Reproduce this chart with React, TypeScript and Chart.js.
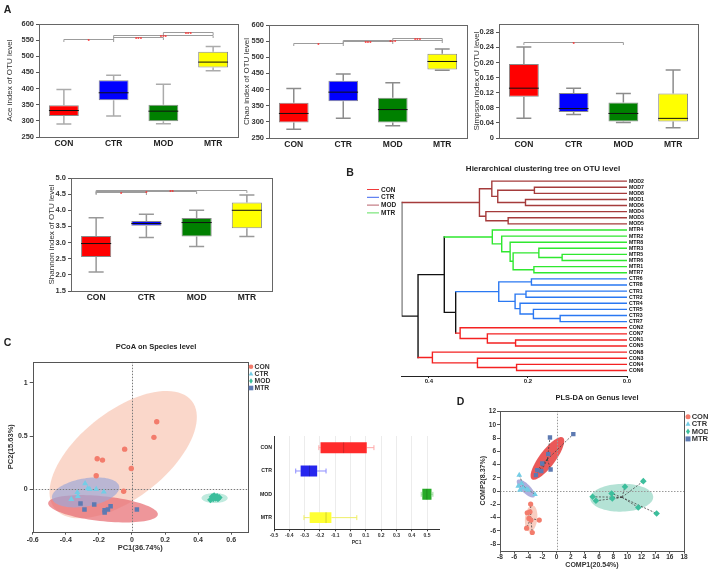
import React, { useEffect, useRef } from 'react';
import { Chart, registerables } from 'chart.js';

Chart.register(...registerables);

const FONT = '"Liberation Sans", Arial, Helvetica, sans-serif';
Chart.defaults.font.family = FONT;

type Rect = { left: number; top: number; width: number; height: number };
type Plot = { l: number; t: number; r: number; b: number };

// ---------------- shared ----------------
const GROUPS = ['CON', 'CTR', 'MOD', 'MTR'];
const BOX_FILL = ['#FF0000', '#0000FF', '#008000', '#FFFF00'];

// ---------------- Panel A : [min, q1, median, q3, max] ----------------
const aceStats = [[290, 315, 332, 348, 397], [315, 364, 387, 426, 441], [291, 299, 330, 350, 413], [455, 465, 482, 514, 530]];
const chaoStats = [[277, 298, 326, 359, 403], [311, 364, 392, 427, 448], [288, 298, 338, 375, 421], [460, 462, 487, 511, 526]];
const simpsonStats = [[0.052, 0.109, 0.132, 0.196, 0.241], [0.062, 0.069, 0.078, 0.119, 0.132], [0.041, 0.044, 0.065, 0.094, 0.118], [0.027, 0.044, 0.052, 0.118, 0.18]];
const shannonStats = [[2.09, 2.55, 2.97, 3.2, 3.77], [3.16, 3.52, 3.59, 3.67, 3.88], [2.88, 3.19, 3.62, 3.76, 4.0], [3.19, 3.44, 4.0, 4.24, 4.47]];

const aceTicks = [250, 300, 350, 400, 450, 500, 550, 600];
const chaoTicks = [250, 300, 350, 400, 450, 500, 550, 600];
const simpsonTicks = [0, 0.04, 0.08, 0.12, 0.16, 0.2, 0.24, 0.28];
const shannonTicks = [1.5, 2.0, 2.5, 3.0, 3.5, 4.0, 4.5, 5.0];

// significance brackets: [group A index, group B index, level, label]
const aceSig = [[0, 1, 552, '*'], [1, 2, 560, '***'], [1, 3, 567, '***'], [2, 3, 574, '***']];
const chaoSig = [[0, 1, 544, '*'], [1, 2, 550, '***'], [1, 3, 555, '***'], [2, 3, 560, '***']];
const simpsonSig = [[0, 2, 0.253, '*']];
const shannonSig = [[0, 1, 4.58, '*'], [0, 2, 4.61, '*'], [0, 3, 4.64, '**']];

// ---------------- Panel B : dendrogram ----------------
const leafNames = ['MOD2', 'MOD7', 'MOD8', 'MOD1', 'MOD6', 'MOD4', 'MOD3', 'MOD5', 'MTR4', 'MTR2', 'MTR8', 'MTR3', 'MTR5', 'MTR6', 'MTR1', 'MTR7', 'CTR6', 'CTR8', 'CTR1', 'CTR2', 'CTR4', 'CTR5', 'CTR3', 'CTR7', 'CON2', 'CON7', 'CON1', 'CON5', 'CON8', 'CON3', 'CON4', 'CON6'];
// [child a, child b, height]; ids < 32 are leaves, 32 + k is merge k
const treeMerges = [
  [1, 2, 0.187], [3, 4, 0.205], [32, 33, 0.261], [0, 34, 0.273], [6, 7, 0.24], [5, 36, 0.285], [35, 37, 0.298],
  [12, 13, 0.131], [11, 39, 0.178], [14, 15, 0.188], [40, 41, 0.23], [10, 42, 0.236], [9, 43, 0.253], [8, 44, 0.272],
  [16, 17, 0.193], [18, 19, 0.204], [22, 23, 0.135], [21, 48, 0.189], [20, 49, 0.216], [47, 50, 0.226], [46, 51, 0.259],
  [26, 27, 0.225], [25, 53, 0.282], [24, 54, 0.337], [30, 31, 0.223], [29, 56, 0.302], [28, 57, 0.393],
  [52, 55, 0.346], [45, 59, 0.369], [60, 58, 0.422], [38, 61, 0.455],
];
const treeTicks = [0, 0.2, 0.4];
const treeColors: Record<string, string> = { CON: '#F42222', CTR: '#2A78F2', MOD: '#A53B3B', MTR: '#2FE82F' };
const treeLegendColors = ['#F03A3A', '#3C64EE', '#B8606A', '#5EE05E'];

// ---------------- Panel C : PCoA ----------------
const pcoaCON = [[0.15, 0.635], [0.133, 0.488], [-0.044, 0.377], [-0.21, 0.286], [-0.178, 0.274], [-0.004, 0.195], [-0.216, 0.126], [-0.05, -0.019]];
const pcoaCTR = [[-0.283, 0.054], [-0.267, 0.007], [-0.255, 0.0], [-0.216, 0.0], [-0.17, -0.025], [-0.33, -0.03], [-0.327, -0.066], [-0.367, -0.094]];
const pcoaMOD = [[0.475, -0.1], [0.485, -0.07], [0.497, -0.06], [0.507, -0.085], [0.515, -0.068], [0.528, -0.078], [0.492, -0.09], [0.52, -0.09]];
const pcoaMTR = [[-0.311, -0.135], [-0.287, -0.192], [-0.228, -0.145], [-0.165, -0.198], [-0.129, -0.16], [-0.145, -0.192], [-0.165, -0.22], [0.03, -0.192]];
const pcoaXTicks = [-0.6, -0.4, -0.2, 0, 0.2, 0.4, 0.6];
const pcoaYTicks = [0, 0.5, 1];
// confidence ellipses: centre, conjugate semi-axes (data units)
const pcoaEllCON = { c: [-0.053, 0.325], u: [0.415, 0.505], v: [-0.162, 0.323], fill: 'rgba(246,175,150,0.5)' };
const pcoaEllMTR = { c: [-0.175, -0.184], u: [0.3315, -0.054], v: [0.0079, 0.117], fill: 'rgba(232,110,115,0.72)' };
const pcoaEllCTR = { c: [-0.28, -0.03], u: [0.203, 0.0557], v: [-0.0147, 0.13], fill: 'rgba(160,168,215,0.7)' };
const pcoaEllMOD = { c: [0.5, -0.083], u: [0.079, 0], v: [0, 0.047], fill: 'rgba(150,220,200,0.6)' };

// inset PC1 box plot [min, q1, median, q3, max]
const pc1Stats = [[-0.207, -0.196, -0.045, 0.106, 0.153], [-0.358, -0.326, -0.268, -0.218, -0.16], [0.462, 0.469, 0.499, 0.529, 0.538], [-0.304, -0.267, -0.16, -0.125, 0.041]];
const pc1Ticks = [-0.5, -0.4, -0.3, -0.2, -0.1, 0, 0.1, 0.2, 0.3, 0.4, 0.5];

// ---------------- Panel D : PLS-DA ----------------
const plsCON = [[-3.67, -1.96], [-4.15, -3.27], [-3.77, -3.12], [-3.91, -4.13], [-3.63, -4.38], [-2.45, -4.38], [-4.24, -5.59], [-3.44, -6.25]];
const plsCTR = [[-5.28, 2.42], [-5.42, 0.76], [-5.18, 0.15], [-4.71, 0.5], [-4.24, 0.3], [-4.0, 0.15], [-3.06, -0.5], [-4.95, 1.16]];
const plsMOD = [[5.09, -0.86], [5.56, -1.46], [7.77, -0.35], [7.87, -1.1], [9.66, 0.65], [12.25, 1.51], [11.54, -2.47], [14.13, -3.38]];
const plsMTR = [[-0.94, 8.11], [2.36, 8.61], [-1.18, 5.59], [-2.03, 4.18], [-2.17, 3.02], [-2.73, 3.17], [-0.85, 3.27], [-2.92, 2.42]];
const plsXTicks = [-8, -6, -4, -2, 0, 2, 4, 6, 8, 10, 12, 14, 16, 18];
const plsYTicks = [-8, -6, -4, -2, 0, 2, 4, 6, 8, 10, 12];
const plsEllCON = { c: [-3.6, -4.13], u: [0.15, 2.0], v: [0.87, 0], fill: 'rgba(245,172,150,0.6)' };
const plsEllCTR = { c: [-4.35, 0.4], u: [1.2, -1.28], v: [0.45, 0.48], fill: 'rgba(140,140,205,0.7)' };
const plsEllMTR = { c: [-1.3, 4.94], u: [2.2, 3.14], v: [-0.9, 0.73], fill: 'rgba(230,60,60,0.85)' };
const plsEllMOD = { c: [9.2, -1.0], u: [4.45, 0.1], v: [0, 2.1], fill: 'rgba(140,210,190,0.65)' };

const PT_COLORS = ['#F37C6C', '#74CDE6', '#3CBE9C', '#5D7AB2'];
const PT_STYLES = ['circle', 'triangle', 'rectRot', 'rect'];

// ---------------- helpers ----------------
function frameOf(rect: Rect, plot: Plot) {
  return {
    padding: { left: 0, top: plot.t - rect.top, right: rect.left + rect.width - plot.r, bottom: 0 },
    yW: plot.l - rect.left,
    xH: rect.top + rect.height - plot.b,
  };
}

const f = (size: number, weight: any = 'bold') => ({ family: FONT, size, weight });

function framePlugin(color: string) {
  return {
    id: 'frame',
    afterDatasetsDraw(chart: any) {
      const { ctx, chartArea: a } = chart;
      ctx.save();
      ctx.strokeStyle = color;
      ctx.lineWidth = 1;
      ctx.strokeRect(Math.round(a.left) + 0.5, Math.round(a.top) + 0.5, Math.round(a.right - a.left), Math.round(a.bottom - a.top));
      ctx.restore();
    },
  };
}

function whiskerPlugin(stats: number[][], colors: string[], medColor: string, horizontal: boolean, capFrac: number, lw: number) {
  return {
    id: 'whisk',
    beforeDatasetsDraw(chart: any) {
      const ctx = chart.ctx;
      const meta = chart.getDatasetMeta(0);
      const cat = horizontal ? chart.scales.y : chart.scales.x;
      const val = horizontal ? chart.scales.x : chart.scales.y;
      ctx.save();
      ctx.lineWidth = lw;
      stats.forEach((s, i) => {
        const c = cat.getPixelForValue(i);
        const bw = horizontal ? meta.data[i].height : meta.data[i].width;
        const cap = (bw * capFrac) / 2;
        const p = s.map((v) => val.getPixelForValue(v));
        ctx.strokeStyle = colors[i];
        ctx.beginPath();
        if (!horizontal) {
          ctx.moveTo(c, p[0]); ctx.lineTo(c, p[1]);
          ctx.moveTo(c, p[3]); ctx.lineTo(c, p[4]);
          ctx.moveTo(c - cap, p[0]); ctx.lineTo(c + cap, p[0]);
          ctx.moveTo(c - cap, p[4]); ctx.lineTo(c + cap, p[4]);
        } else {
          ctx.moveTo(p[0], c); ctx.lineTo(p[1], c);
          ctx.moveTo(p[3], c); ctx.lineTo(p[4], c);
          ctx.moveTo(p[0], c - cap); ctx.lineTo(p[0], c + cap);
          ctx.moveTo(p[4], c - cap); ctx.lineTo(p[4], c + cap);
        }
        ctx.stroke();
      });
      ctx.restore();
    },
    afterDatasetsDraw(chart: any) {
      const ctx = chart.ctx;
      const meta = chart.getDatasetMeta(0);
      const cat = horizontal ? chart.scales.y : chart.scales.x;
      const val = horizontal ? chart.scales.x : chart.scales.y;
      ctx.save();
      ctx.strokeStyle = medColor;
      ctx.lineWidth = 1;
      stats.forEach((s, i) => {
        const c = cat.getPixelForValue(i);
        const bw = horizontal ? meta.data[i].height : meta.data[i].width;
        const m = val.getPixelForValue(s[2]);
        ctx.beginPath();
        if (!horizontal) { ctx.moveTo(c - bw / 2, m); ctx.lineTo(c + bw / 2, m); }
        else { ctx.moveTo(m, c - bw / 2); ctx.lineTo(m, c + bw / 2); }
        ctx.stroke();
      });
      ctx.restore();
    },
  };
}

function sigPlugin(sig: any[]) {
  return {
    id: 'sig',
    afterDatasetsDraw(chart: any) {
      const { ctx } = chart;
      const x = chart.scales.x;
      const y = chart.scales.y;
      ctx.save();
      sig.forEach(([a, b, lvl, lab]) => {
        const x1 = x.getPixelForValue(a);
        const x2 = x.getPixelForValue(b);
        const yy = Math.round(y.getPixelForValue(lvl)) + 0.5;
        ctx.strokeStyle = '#9c9c9c';
        ctx.lineWidth = 1;
        ctx.beginPath();
        ctx.moveTo(x1, yy + 2.5); ctx.lineTo(x1, yy); ctx.lineTo(x2, yy); ctx.lineTo(x2, yy + 2.5);
        ctx.stroke();
        ctx.fillStyle = '#FF2A2A';
        ctx.font = `bold 6px ${FONT}`;
        ctx.textAlign = 'center';
        ctx.textBaseline = 'middle';
        ctx.fillText(lab, (x1 + x2) / 2, yy + 1.5);
      });
      ctx.restore();
    },
  };
}

function drawSymbol(ctx: any, style: string, x: number, y: number, r: number, color: string) {
  ctx.fillStyle = color;
  ctx.beginPath();
  if (style === 'circle') ctx.arc(x, y, r, 0, Math.PI * 2);
  else if (style === 'triangle') { ctx.moveTo(x, y - r * 1.1); ctx.lineTo(x + r, y + r * 0.7); ctx.lineTo(x - r, y + r * 0.7); ctx.closePath(); }
  else if (style === 'rectRot') { ctx.moveTo(x, y - r * 1.2); ctx.lineTo(x + r * 0.8, y); ctx.lineTo(x, y + r * 1.2); ctx.lineTo(x - r * 0.8, y); ctx.closePath(); }
  else ctx.rect(x - r, y - r, 2 * r, 2 * r);
  ctx.fill();
}

// ---------------- builders ----------------
function boxChart(p: any) {
  const L = frameOf(p.rect, p.plot);
  const lh = 8 * 1.2;
  return {
    type: 'bar',
    data: {
      labels: GROUPS,
      datasets: [{
        data: p.stats.map((s: number[]) => [s[1], s[3]]),
        backgroundColor: BOX_FILL,
        borderColor: '#8a8a8a',
        borderWidth: 1,
        borderSkipped: false,
        barPercentage: 0.6,
        categoryPercentage: 1,
      }],
    },
    options: {
      responsive: false,
      animation: false,
      devicePixelRatio: 1,
      layout: { padding: L.padding },
      plugins: { legend: { display: false }, tooltip: { enabled: false } },
      scales: {
        x: {
          grid: { display: false, drawTicks: false },
          border: { display: false },
          ticks: { font: f(8.5), color: '#222', padding: 2 },
          afterFit: (s: any) => { s.height = L.xH; },
        },
        y: {
          min: p.min,
          max: p.max,
          afterBuildTicks: (s: any) => { s.ticks = p.ticks.map((v: number) => ({ value: v })); },
          ticks: { callback: (v: any) => p.fmt(Number(v)), font: f(7.5), color: '#333', padding: 2, autoSkip: false },
          grid: { drawOnChartArea: false, tickLength: 3, color: '#555' },
          border: { display: false },
          title: { display: true, text: p.title, font: f(8, 'normal'), color: '#333', padding: { top: p.titleX - p.rect.left - lh / 2, bottom: 0 } },
          afterFit: (s: any) => { s.width = L.yW; },
        },
      },
    },
    plugins: [whiskerPlugin(p.stats, [p.whisker, p.whisker, p.whisker, p.whisker], '#111', false, 0.5, 1.5), framePlugin('#666'), sigPlugin(p.sig)],
  };
}

function dendroChart(rect: Rect, plot: Plot) {
  const n = leafNames.length;
  const pos: number[] = leafNames.map((_, i) => i);
  const hgt: number[] = leafNames.map(() => 0);
  const grp: (string | null)[] = leafNames.map((s) => s.slice(0, 3));
  treeMerges.forEach(([a, b, h]) => {
    pos.push((pos[a] + pos[b]) / 2);
    hgt.push(h);
    grp.push(grp[a] && grp[a] === grp[b] ? grp[a] : null);
  });
  const segs: Record<string, any[]> = {};
  const colorOf = (id: number) => (grp[id] ? treeColors[grp[id] as string] : '#111111');
  const add = (color: string, pts: any[]) => {
    (segs[color] = segs[color] || []).push(...pts, { x: pts[pts.length - 1].x, y: null });
  };
  treeMerges.forEach(([a, b, h], k) => {
    const id = n + k;
    add(colorOf(a), [{ x: hgt[a], y: pos[a] }, { x: h, y: pos[a] }]);
    add(colorOf(id), [{ x: h, y: pos[a] }, { x: h, y: pos[b] }]);
    add(colorOf(b), [{ x: hgt[b], y: pos[b] }, { x: h, y: pos[b] }]);
  });
  const datasets = Object.keys(segs).map((c) => ({
    data: segs[c],
    borderColor: c,
    borderWidth: 1.4,
    pointRadius: 0,
    spanGaps: false,
    borderCapStyle: 'square',
    fill: false,
  }));
  const legendPlugin = {
    id: 'treeLegend',
    afterDraw(chart: any) {
      const ctx = chart.ctx;
      ctx.save();
      ctx.font = `bold 6.5px ${FONT}`;
      ctx.textBaseline = 'middle';
      ctx.textAlign = 'left';
      GROUPS.forEach((g, i) => {
        const y = 189.5 - rect.top + i * 7.8;
        ctx.strokeStyle = treeLegendColors[i];
        ctx.lineWidth = 1;
        ctx.beginPath();
        ctx.moveTo(367 - rect.left, y); ctx.lineTo(379 - rect.left, y);
        ctx.stroke();
        ctx.fillStyle = '#222';
        ctx.fillText(g, 381 - rect.left, y + 0.3);
      });
      ctx.restore();
    },
  };
  return {
    type: 'line',
    data: { datasets },
    options: {
      responsive: false,
      animation: false,
      devicePixelRatio: 1,
      layout: { padding: { left: plot.l - rect.left, top: plot.t - rect.top, right: 0, bottom: 0 } },
      plugins: { legend: { display: false }, tooltip: { enabled: false } },
      scales: {
        x: {
          type: 'linear',
          reverse: true,
          min: 0,
          max: 0.455,
          afterBuildTicks: (s: any) => { s.ticks = treeTicks.map((v) => ({ value: v })); },
          ticks: { callback: (v: any) => Number(v).toFixed(1), font: f(6), color: '#222', padding: 0, autoSkip: false, maxRotation: 0 },
          grid: { drawOnChartArea: false, tickLength: 2, color: '#222' },
          border: { display: true, color: '#222', width: 1 },
          afterFit: (s: any) => { s.height = rect.top + rect.height - plot.b; },
        },
        y: {
          type: 'linear',
          position: 'right',
          reverse: true,
          min: -1,
          max: 31.9,
          afterBuildTicks: (s: any) => { s.ticks = leafNames.map((_, i) => ({ value: i })); },
          ticks: { callback: (v: any) => leafNames[Number(v)] ?? '', font: f(5.2), color: '#111', padding: 2, autoSkip: false },
          grid: { display: false, drawTicks: false },
          border: { display: false },
          afterFit: (s: any) => { s.width = rect.left + rect.width - plot.r; },
        },
      },
    },
    plugins: [legendPlugin],
  };
}

function scatterChart(p: any) {
  const L = frameOf(p.rect, p.plot);
  const tlh = p.titleSize * 1.2;
  const groupsData = [p.con, p.ctr, p.mod, p.mtr];
  const datasets = groupsData.map((pts: number[][], i: number) => ({
    label: GROUPS[i],
    data: pts.map(([x, y]) => ({ x, y })),
    pointStyle: PT_STYLES[i],
    pointRadius: p.radii[i],
    backgroundColor: PT_COLORS[i],
    borderColor: PT_COLORS[i],
    borderWidth: 0,
  }));
  const under = {
    id: 'under',
    beforeDatasetsDraw(chart: any) {
      const { ctx, chartArea: a } = chart;
      const xs = chart.scales.x;
      const ys = chart.scales.y;
      ctx.save();
      ctx.beginPath();
      ctx.rect(a.left, a.top, a.right - a.left, a.bottom - a.top);
      ctx.clip();
      p.ellipses.forEach((e: any) => {
        ctx.beginPath();
        for (let k = 0; k <= 90; k++) {
          const t = (k / 90) * Math.PI * 2;
          const vx = e.c[0] + e.u[0] * Math.cos(t) + e.v[0] * Math.sin(t);
          const vy = e.c[1] + e.u[1] * Math.cos(t) + e.v[1] * Math.sin(t);
          const px = xs.getPixelForValue(vx);
          const py = ys.getPixelForValue(vy);
          if (k === 0) ctx.moveTo(px, py); else ctx.lineTo(px, py);
        }
        ctx.closePath();
        ctx.fillStyle = e.fill;
        ctx.fill();
      });
      // zero reference lines
      ctx.strokeStyle = p.zeroColor;
      ctx.lineWidth = 1;
      ctx.setLineDash([1.5, 1.5]);
      const x0 = Math.round(xs.getPixelForValue(0)) + 0.5;
      const y0 = Math.round(ys.getPixelForValue(0)) + 0.5;
      ctx.beginPath();
      ctx.moveTo(x0, a.top); ctx.lineTo(x0, a.bottom);
      ctx.moveTo(a.left, y0); ctx.lineTo(a.right, y0);
      ctx.stroke();
      if (p.star) {
        ctx.strokeStyle = '#444';
        ctx.lineWidth = 0.8;
        ctx.setLineDash([2, 1.5]);
        groupsData.forEach((pts: number[][]) => {
          const cx = pts.reduce((s, q) => s + q[0], 0) / pts.length;
          const cy = pts.reduce((s, q) => s + q[1], 0) / pts.length;
          const pcx = xs.getPixelForValue(cx);
          const pcy = ys.getPixelForValue(cy);
          ctx.beginPath();
          pts.forEach(([x, y]) => { ctx.moveTo(pcx, pcy); ctx.lineTo(xs.getPixelForValue(x), ys.getPixelForValue(y)); });
          ctx.stroke();
        });
      }
      ctx.restore();
    },
  };
  const legend = {
    id: 'sLegend',
    afterDraw(chart: any) {
      const ctx = chart.ctx;
      ctx.save();
      ctx.font = `bold ${p.legend.size}px ${FONT}`;
      ctx.textBaseline = 'middle';
      ctx.textAlign = 'left';
      GROUPS.forEach((g, i) => {
        const y = p.legend.y - p.rect.top + i * p.legend.dy;
        const x = p.legend.x - p.rect.left;
        drawSymbol(ctx, PT_STYLES[i], x, y, p.legend.r, PT_COLORS[i]);
        ctx.fillStyle = '#333';
        ctx.fillText(g, x + p.legend.r + 1.2, y + 0.3);
      });
      ctx.restore();
    },
  };
  return {
    type: 'scatter',
    data: { datasets },
    options: {
      responsive: false,
      animation: false,
      devicePixelRatio: 1,
      layout: { padding: L.padding },
      plugins: { legend: { display: false }, tooltip: { enabled: false } },
      scales: {
        x: {
          type: 'linear',
          min: p.xMin,
          max: p.xMax,
          afterBuildTicks: (s: any) => { s.ticks = p.xTicks.map((v: number) => ({ value: v })); },
          ticks: { callback: (v: any) => p.fmt(Number(v)), font: f(p.tickSize), color: '#333', padding: p.xTickPad, autoSkip: false, maxRotation: 0 },
          grid: { drawOnChartArea: false, tickLength: 3, color: '#555' },
          border: { display: false },
          title: { display: true, text: p.xTitle, font: f(p.titleSize), color: '#333', padding: { top: 0, bottom: p.rect.top + p.rect.height - p.xTitleY - tlh / 2 } },
          afterFit: (s: any) => { s.height = L.xH; },
        },
        y: {
          type: 'linear',
          min: p.yMin,
          max: p.yMax,
          afterBuildTicks: (s: any) => { s.ticks = p.yTicks.map((v: number) => ({ value: v })); },
          ticks: { callback: (v: any) => p.fmt(Number(v)), font: f(p.tickSize), color: '#333', padding: p.yTickPad, autoSkip: false },
          grid: { drawOnChartArea: false, tickLength: 3, color: '#555' },
          border: { display: false },
          title: { display: true, text: p.yTitle, font: f(p.titleSize), color: '#333', padding: { top: p.yTitleX - p.rect.left - tlh / 2, bottom: 0 } },
          afterFit: (s: any) => { s.width = L.yW; },
        },
      },
    },
    plugins: [under, framePlugin('#555'), legend],
  };
}

function pc1BoxChart(rect: Rect, plot: Plot) {
  const L = frameOf(rect, plot);
  const fill = ['#FF2B2B', '#2626EE', '#26AA26', '#FFFF33'];
  const whisk = ['#FFA8A8', '#8C8CFF', '#9AD89A', '#EEEE66'];
  return {
    type: 'bar',
    data: {
      labels: GROUPS,
      datasets: [{
        data: pc1Stats.map((s) => [s[1], s[3]]),
        backgroundColor: fill,
        borderWidth: 0,
        borderSkipped: false,
        barPercentage: 0.47,
        categoryPercentage: 1,
      }],
    },
    options: {
      indexAxis: 'y',
      responsive: false,
      animation: false,
      devicePixelRatio: 1,
      layout: { padding: L.padding },
      plugins: { legend: { display: false }, tooltip: { enabled: false } },
      scales: {
        x: {
          min: -0.5,
          max: 0.58,
          afterBuildTicks: (s: any) => { s.ticks = pc1Ticks.map((v) => ({ value: v })); },
          ticks: { callback: (v: any) => (Math.abs(Number(v)) < 1e-9 ? '0' : Number(v).toFixed(1)), font: f(5), color: '#333', padding: 1, autoSkip: false, maxRotation: 0 },
          grid: { color: '#ececec', tickColor: '#333', tickLength: 2 },
          border: { display: true, color: '#333' },
          title: { display: true, text: 'PC1', font: f(5), color: '#333', padding: { top: 0, bottom: rect.top + rect.height - 542.7 - 3 } },
          afterFit: (s: any) => { s.height = L.xH; },
        },
        y: {
          grid: { display: false, drawTicks: false },
          border: { display: true, color: '#333' },
          ticks: { font: f(5.2), color: '#222', padding: 2 },
          afterFit: (s: any) => { s.width = L.yW; },
        },
      },
    },
    plugins: [whiskerPlugin(pc1Stats, whisk, 'rgba(0,0,0,0.18)', true, 0.45, 1)],
  };
}

// ---------------- components ----------------
function ChartCanvas({ rect, make }: { rect: Rect; make: () => any }) {
  const ref = useRef<HTMLCanvasElement | null>(null);
  useEffect(() => {
    if (!ref.current) return;
    const chart = new Chart(ref.current, make());
    return () => chart.destroy();
  }, []);
  return (
    <div style={{ position: 'absolute', left: rect.left, top: rect.top, width: rect.width, height: rect.height }}>
      <canvas ref={ref} width={rect.width} height={rect.height} style={{ display: 'block', width: rect.width, height: rect.height }} />
    </div>
  );
}

function Label({ x, y, text, size }: { x: number; y: number; text: string; size: number }) {
  return (
    <div style={{ position: 'absolute', left: x, top: y, transform: 'translate(-50%, -50%)', fontFamily: FONT, fontWeight: 'bold', fontSize: size, lineHeight: 1, whiteSpace: 'nowrap', color: '#222' }}>
      {text}
    </div>
  );
}

const fmtPlain = (v: number) => String(v);
const fmt2 = (v: number) => (v === 0 ? '0' : v.toFixed(2));
const fmt1 = (v: number) => v.toFixed(1);
const fmtShort = (v: number) => (Math.abs(v) < 1e-9 ? '0' : String(Number(v.toFixed(1))));

const R_ACE = { left: 0, top: 0, width: 245, height: 155 };
const R_CHAO = { left: 230, top: 0, width: 245, height: 155 };
const R_SIMP = { left: 460, top: 0, width: 248, height: 155 };
const R_SHAN = { left: 30, top: 150, width: 250, height: 160 };
const R_TREE = { left: 340, top: 150, width: 368, height: 240 };
const R_PCOA = { left: 0, top: 335, width: 290, height: 236 };
const R_PC1 = { left: 240, top: 420, width: 210, height: 151 };
const R_PLS = { left: 470, top: 395, width: 238, height: 176 };

export default function App() {
  return (
    <div style={{ position: 'fixed', left: 0, top: 0, width: 708, height: 571, background: '#fff', overflow: 'hidden' }}>
      <ChartCanvas rect={R_ACE} make={() => boxChart({ rect: R_ACE, plot: { l: 39, t: 24, r: 238, b: 137 }, stats: aceStats, ticks: aceTicks, min: 250, max: 600, fmt: fmtPlain, title: 'Ace index of OTU level', titleX: 10, sig: aceSig, whisker: '#ababab' })} />
      <ChartCanvas rect={R_CHAO} make={() => boxChart({ rect: R_CHAO, plot: { l: 269, t: 25, r: 467, b: 138 }, stats: chaoStats, ticks: chaoTicks, min: 250, max: 600, fmt: fmtPlain, title: 'Chao index of OTU level', titleX: 246.7, sig: chaoSig, whisker: '#8c8c8c' })} />
      <ChartCanvas rect={R_SIMP} make={() => boxChart({ rect: R_SIMP, plot: { l: 499, t: 24, r: 698, b: 138 }, stats: simpsonStats, ticks: simpsonTicks, min: 0, max: 0.302, fmt: fmt2, title: 'Simpson index of OTU level', titleX: 476.7, sig: simpsonSig, whisker: '#8c8c8c' })} />
      <ChartCanvas rect={R_SHAN} make={() => boxChart({ rect: R_SHAN, plot: { l: 71, t: 178, r: 272, b: 291 }, stats: shannonStats, ticks: shannonTicks, min: 1.5, max: 5.0, fmt: fmt1, title: 'Shannon index of OTU level', titleX: 51.7, sig: shannonSig, whisker: '#999999' })} />
      <ChartCanvas rect={R_TREE} make={() => dendroChart(R_TREE, { l: 401.7, t: 175, r: 627, b: 376 })} />
      <ChartCanvas rect={R_PCOA} make={() => scatterChart({
        rect: R_PCOA, plot: { l: 32.7, t: 361.7, r: 247.7, b: 531.7 },
        con: pcoaCON, ctr: pcoaCTR, mod: pcoaMOD, mtr: pcoaMTR, radii: [2.7, 3.4, 3.4, 3.2],
        xMin: -0.6, xMax: 0.7, yMin: -0.4, yMax: 1.2, xTicks: pcoaXTicks, yTicks: pcoaYTicks, fmt: fmtShort,
        tickSize: 7, titleSize: 7.5, xTickPad: 1, yTickPad: 2,
        xTitle: 'PC1(36.74%)', yTitle: 'PC2(15.63%)', xTitleY: 548.3, yTitleX: 11,
        ellipses: [pcoaEllCON, pcoaEllMTR, pcoaEllCTR, pcoaEllMOD], zeroColor: '#7a7a7a', star: false,
        legend: { x: 251, y: 366.7, dy: 7.1, r: 2.3, size: 6.8 },
      })} />
      <ChartCanvas rect={R_PC1} make={() => pc1BoxChart(R_PC1, { l: 274, t: 436, r: 439.3, b: 529.3 })} />
      <ChartCanvas rect={R_PLS} make={() => scatterChart({
        rect: R_PLS, plot: { l: 500, t: 410.7, r: 684, b: 550.7 },
        con: plsCON, ctr: plsCTR, mod: plsMOD, mtr: plsMTR, radii: [2.6, 3.3, 3.3, 3.1],
        xMin: -8, xMax: 18, yMin: -9, yMax: 12.15, xTicks: plsXTicks, yTicks: plsYTicks, fmt: fmtPlain,
        tickSize: 6.5, titleSize: 7, xTickPad: 0, yTickPad: 1,
        xTitle: 'COMP1(20.54%)', yTitle: 'COMP2(8.37%)', xTitleY: 565, yTitleX: 482.7,
        ellipses: [plsEllCON, plsEllMOD, plsEllCTR, plsEllMTR], zeroColor: '#9a9a9a', star: true,
        legend: { x: 688, y: 416.7, dy: 7.4, r: 2.5, size: 7.5 },
      })} />
      <Label x={7.5} y={8.5} text="A" size={10.5} />
      <Label x={350} y={172} text="B" size={10.5} />
      <Label x={7.5} y={341.7} text="C" size={10.5} />
      <Label x={460.5} y={401} text="D" size={10.5} />
      <Label x={543} y={169} text="Hierarchical clustering tree on OTU level" size={8} />
      <Label x={156} y={347} text="PCoA on Species level" size={7.5} />
      <Label x={597} y={398} text="PLS-DA on Genus level" size={7.5} />
    </div>
  );
}
